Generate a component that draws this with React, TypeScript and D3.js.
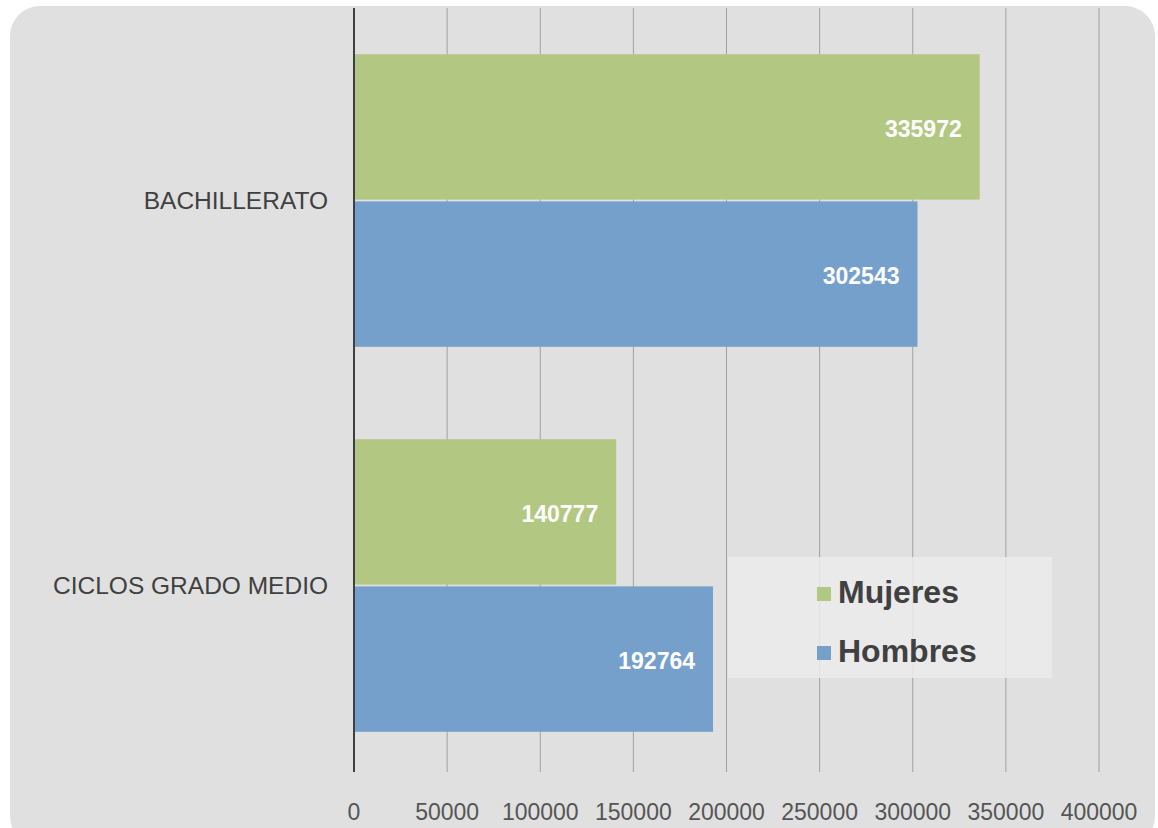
import React from 'react';
import * as d3 from 'd3';

const categories = ['BACHILLERATO', 'CICLOS GRADO MEDIO'];
const seriesNames = ['Mujeres', 'Hombres'];
const mujeres = [335972, 140777];
const hombres = [302543, 192764];
const ticks = [0, 50000, 100000, 150000, 200000, 250000, 300000, 350000, 400000];

const colors: Record<string, string> = { Mujeres: '#b2c882', Hombres: '#76a0cc' };

const W = 1158;
const H = 828;
const margin = { top: 8, right: 59, bottom: 50, left: 354 };
const font = 'Arial, "Liberation Sans", sans-serif';

const App: React.FC = () => {
  const x = d3.scaleLinear().domain([0, 400000]).range([margin.left, W - margin.right]);
  const y = d3.scaleBand().domain(categories).range([margin.top, H - margin.bottom]).paddingInner(0.24).paddingOuter(0.12);
  const sub = d3.scaleBand().domain(seriesNames).range([0, y.bandwidth()]).paddingInner(0.012);
  const values: Record<string, number[]> = { Mujeres: mujeres, Hombres: hombres };

  return (
    <svg width={W} height={H} style={{ display: 'block', position: 'absolute', left: 0, top: 0 }}>
      <rect x={0} y={0} width={W} height={H} fill="#ffffff" />
      <rect x={10} y={6} width={1145} height={840} rx={30} fill="#e0e0e0" />

      {/* gridlines */}
      {ticks.slice(1).map(t => (
        <line key={t} x1={x(t)} x2={x(t)} y1={margin.top} y2={772} stroke="#a0a0a0" strokeWidth={1} />
      ))}

      {/* bars */}
      {categories.map((c, i) =>
        seriesNames.map(s => (
          <rect
            key={c + s}
            x={x(0)}
            y={(y(c) || 0) + (sub(s) || 0)}
            width={x(values[s][i]) - x(0)}
            height={sub.bandwidth()}
            fill={colors[s]}
          />
        ))
      )}

      {/* data labels */}
      {categories.map((c, i) =>
        seriesNames.map(s => (
          <text
            key={'l' + c + s}
            x={x(values[s][i]) - 18}
            y={(y(c) || 0) + (sub(s) || 0) + sub.bandwidth() / 2 + 2}
            dy="0.35em"
            textAnchor="end"
            fill="#ffffff"
            fontWeight="bold"
            fontSize={23}
            fontFamily={font}
          >
            {values[s][i]}
          </text>
        ))
      )}

      {/* axis line */}
      <line x1={x(0)} x2={x(0)} y1={margin.top} y2={772} stroke="#404040" strokeWidth={2} />

      {/* category labels */}
      {categories.map(c => (
        <text
          key={c}
          x={margin.left - 26}
          y={(y(c) || 0) + y.bandwidth() / 2}
          dy="0.35em"
          textAnchor="end"
          fill="#404040"
          fontSize={24.5}
          fontFamily={font}
        >
          {c}
        </text>
      ))}

      {/* tick labels */}
      {ticks.map(t => (
        <text key={'t' + t} x={x(t)} y={820} textAnchor="middle" fill="#555555" fontSize={23} fontFamily={font}>
          {t}
        </text>
      ))}

      {/* legend */}
      <rect x={728} y={557} width={324} height={121} fill="#ebebeb" opacity={0.85} />
      {seriesNames.map((s, i) => (
        <g key={'lg' + s} transform={`translate(817, ${603 + i * 59})`}>
          <rect x={0} y={-16} width={14} height={14} fill={colors[s]} />
          <text x={21} y={0} fill="#404040" fontWeight="bold" fontSize={32} fontFamily={font}>
            {s}
          </text>
        </g>
      ))}
    </svg>
  );
};

export default App;
